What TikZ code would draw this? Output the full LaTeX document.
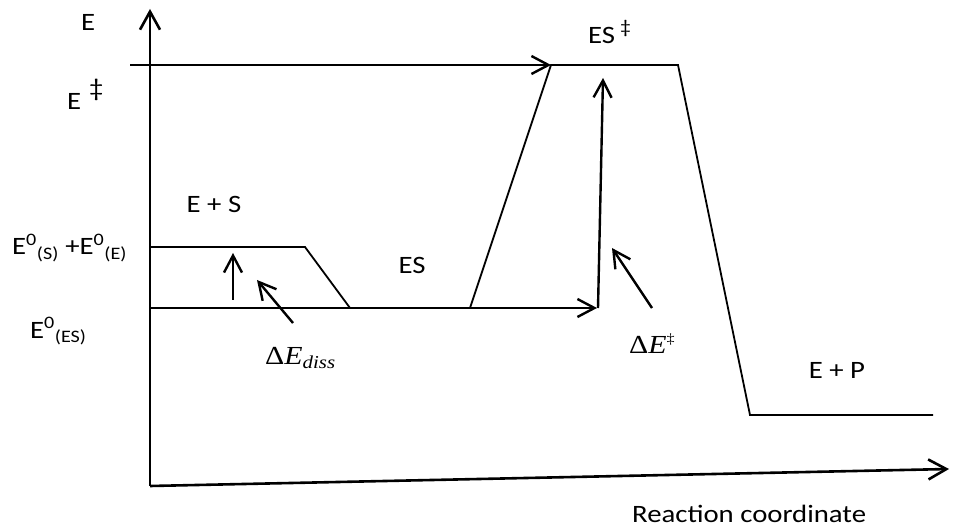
\documentclass[tikz,border=0pt]{standalone}
\usepackage{fontspec}
\setmainfont{Carlito}[FakeStretch=1.15]
\newfontfamily\tnr{Liberation Serif}[FakeStretch=1.15]
\usetikzlibrary{arrows.meta}
\begin{document}
\begin{tikzpicture}[x=1pt,y=-1pt,
  lbl/.style={font=\fontsize{25}{30}\selectfont, inner sep=0pt},
  ml/.style={font=\tnr\fontsize{26}{31}\selectfont, inner sep=0pt},
  ax/.style={line width=2.6pt, -{Straight Barb[length=18pt,width=20pt]}},
  pth/.style={line width=1.8pt, line join=miter},
  arr/.style={line width=2.4pt, -{Straight Barb[length=17pt,width=18pt]}},
]
\useasboundingbox (0,0) rectangle (953,529);
% coordinates
\coordinate (O) at (150,486);
\coordinate (Ytop) at (150,9);
\coordinate (Xend) at (949,469);
\coordinate (Tstart) at (130,65);
\coordinate (TSl) at (551,65);
\coordinate (TSr) at (678,65);
\coordinate (Pl) at (750,415);
\coordinate (Pr) at (933,415);
\coordinate (Sl) at (150,247);
\coordinate (Sr) at (305,247);
\coordinate (ESl) at (350,308);
\coordinate (ESstart) at (150,308);
\coordinate (ESr) at (470,308);
\coordinate (Hend) at (597,308);
\coordinate (Vbot) at (598,308);
\coordinate (Vtop) at (603,78);
\coordinate (dA) at (233,300);
\coordinate (dB) at (233,253);
\coordinate (pA) at (293,323);
\coordinate (pB) at (257,280);
\coordinate (qA) at (652,308);
\coordinate (qB) at (612,248);
% axes
\draw[ax] (O) -- (Ytop);
\draw[ax] (O) -- (Xend);
% profile
\draw[arr] (Tstart) -- (TSl);
\draw[pth] (ESr) -- (TSl) -- (TSr) -- (Pl) -- (Pr);
\draw[pth] (Sl) -- (Sr) -- (ESl);
\draw[arr] (ESstart) -- (Hend);
\draw[arr] (Vbot) -- (Vtop);
\draw[arr] (dA) -- (dB);
\draw[arr] (pA) -- (pB);
\draw[arr] (qA) -- (qB);
% labels
\node[lbl, anchor=base west] (lE) at (81,31) {E};
\node[lbl, anchor=base west] (lEd) at (67,110) {E\hspace{8pt}\raisebox{13pt}{‡}};
\node[lbl, anchor=base west] (lESd) at (588,44) {ES\hspace{5pt}\raisebox{10pt}{\fontsize{19}{22}\selectfont ‡}};
\node[lbl] (lES0) at (214,204) {E + S};
\node[lbl, anchor=base west] (lSE) at (12,255) {E\textsuperscript{0}\textsubscript{(S)} +E\textsuperscript{0}\textsubscript{(E)}};
\node[lbl, anchor=base west] (lES) at (30,338) {E\textsuperscript{0}\textsubscript{(ES)}};
\node[lbl] (lESm) at (412,265) {ES};
\node[lbl] (lEP) at (837,370) {E + P};
\node[lbl, anchor=base west] (lRC) at (632,522) {Reaction coordinate};
\node[ml, anchor=base west] (lDd) at (265,364) {Δ\textit{E}\textsubscript{\textit{diss}}};
\node[ml, anchor=base west] (lDE) at (629,353) {Δ\textit{E}\raisebox{10pt}{\fontsize{14}{16}\selectfont ‡}};
\end{tikzpicture}
\end{document}
